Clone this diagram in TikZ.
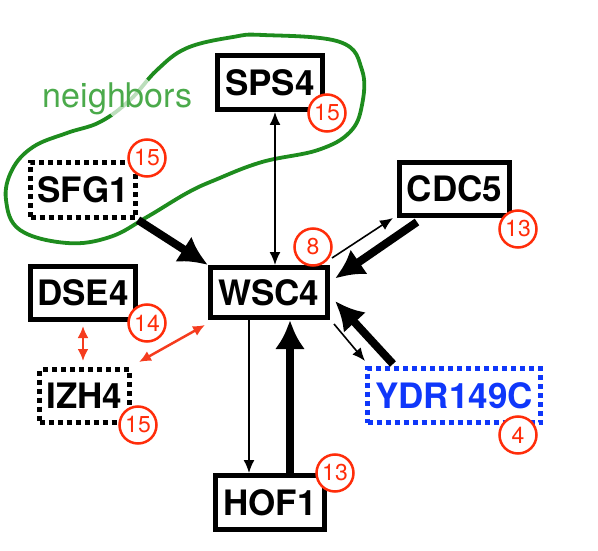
\documentclass[tikz,border=0pt]{standalone}
\usepackage{fontspec}
\setmainfont{TeX Gyre Heros}
\usetikzlibrary{arrows.meta}
\definecolor{badgered}{RGB}{255,45,10}
\definecolor{linkred}{RGB}{245,60,30}
\definecolor{hoodgreen}{RGB}{30,140,30}
\definecolor{hoodtext}{RGB}{75,170,75}
\definecolor{queryblue}{RGB}{15,55,250}
\begin{document}
\begin{tikzpicture}[x=1pt,y=-1pt,
    gene/.style={draw,line width=5pt,fill=white,inner sep=0pt,
      font=\fontsize{35}{35}\selectfont\bfseries},
    dotgene/.style={gene,dash pattern=on 5pt off 4pt},
    count/.style={circle,draw=badgered,line width=2.5pt,fill=white,
      minimum size=37pt,inner sep=0pt,text=badgered,font=\fontsize{23}{23}\selectfont},
    weaklink/.style={line width=1.6pt,-{Latex[length=13pt,width=11pt]}},
    weakboth/.style={line width=1.6pt,{Latex[length=13pt,width=11pt]}-{Latex[length=13pt,width=11pt]}},
    stronglink/.style={line width=8pt,-{Latex[length=29pt,width=30pt]}},
    redboth/.style={linkred,line width=2.5pt,{Latex[length=12pt,width=11pt]}-{Latex[length=12pt,width=11pt]}}]
  \useasboundingbox (0,0) rectangle (598,551);
  % neighbourhood outline
  \def\hoodpath{plot[smooth cycle,tension=0.65] coordinates {(263,35) (340,42) (362,70) (362,105)
    (350,132) (318,150) (262,162) (215,180) (187,193) (147,217) (110,237) (67,243) (20,230)
    (6,200) (12,170) (33,147) (67,133) (100,122) (130,100) (157,70) (187,48) (233,37)}}
  \draw[hoodgreen,line width=3.8pt] \hoodpath;
  \begin{scope}
    \clip (130,98) circle (25);
    \draw[white,line width=6pt] \hoodpath;
    \draw[hoodgreen!30,line width=3.8pt] \hoodpath;
  \end{scope}
  \node[text=hoodtext,font=\fontsize{34}{34}\selectfont,anchor=base] (hood) at (117.5,107) {neighbors};

  % genes
  \node[gene,minimum width=105pt,minimum height=54pt] (SPS4) at (270,82.5) {SPS4};
  \node[dotgene,minimum width=105pt,minimum height=55pt] (SFG1) at (83,190) {SFG1};
  \node[gene,minimum width=117pt,minimum height=50pt] (WSC4) at (269,292.5) {WSC4};
  \node[gene,minimum width=110pt,minimum height=53pt] (CDC5) at (454.5,189) {CDC5};
  \node[gene,minimum width=105pt,minimum height=53pt] (DSE4) at (83,293) {DSE4};
  \node[dotgene,minimum width=90pt,minimum height=53pt] (IZH4) at (84.5,396) {IZH4};
  \node[dotgene,draw=queryblue,text=queryblue,minimum width=173pt,minimum height=54pt] (YDR) at (454,395.5) {YDR149C};
  \node[gene,minimum width=109pt,minimum height=54pt] (HOF1) at (270,502.5) {HOF1};

  % links
  \draw[weakboth] ([xshift=5]SPS4.south) -- ([xshift=5]SPS4.south |- WSC4.north);
  \draw[stronglink] (SFG1.south east) -- (WSC4.north west);
  \draw[weaklink] ([xshift=2,yshift=7]WSC4.north east) -- ([xshift=-4]CDC5.south west);
  \draw[stronglink] ([xshift=20,yshift=-4]CDC5.south west) -- ([xshift=5,yshift=14]WSC4.east);
  \draw[stronglink] ([xshift=28,yshift=2]YDR.north west) -- ([xshift=5,yshift=19]WSC4.south east);
  \draw[weaklink] ([xshift=4,yshift=-4]WSC4.south east) -- ([yshift=5]YDR.north west);
  \draw[weaklink] ([xshift=-20]WSC4.south) -- ([xshift=-20]WSC4.south |- HOF1.north);
  \draw[stronglink] ([xshift=20]HOF1.north) -- ([xshift=20]HOF1.north |- WSC4.south);
  \draw[redboth] ([yshift=-4]DSE4.south) -- ([yshift=6]DSE4.south |- IZH4.north);
  \draw[redboth] ([xshift=7,yshift=5]IZH4.north east) -- ([xshift=-3,yshift=-5]WSC4.south west);

  % degree badges
  \node[count] (nSPS4) at (327,113) {15};
  \node[count] (nSFG1) at (147,158) {15};
  \node[count] (nWSC4) at (313,247) {8};
  \node[count] (nCDC5) at (518,229) {13};
  \node[count] (nDSE4) at (147,323) {14};
  \node[count] (nIZH4) at (138,425) {15};
  \node[count] (nYDR) at (518,435) {4};
  \node[count] (nHOF1) at (335,473) {13};
\end{tikzpicture}
\end{document}
